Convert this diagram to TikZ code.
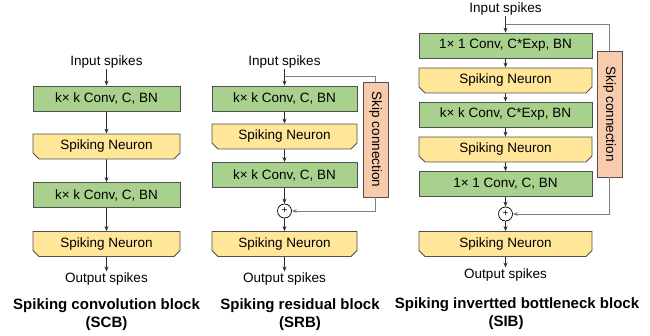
\documentclass[tikz,border=0pt]{standalone}
\usepackage{fontspec}
\setmainfont{Liberation Sans}
\usetikzlibrary{shapes.misc,arrows.meta}
\definecolor{convgreen}{HTML}{A9D18E}
\definecolor{neuronyellow}{HTML}{FFE699}
\definecolor{skipsalmon}{HTML}{F8CBAD}
\definecolor{edgegray}{HTML}{505050}
\definecolor{linegray}{HTML}{303030}
\definecolor{skipgray}{HTML}{808080}
\begin{document}
\begin{tikzpicture}[x=1pt,y=-1pt,
  lbl/.style={font=\fontsize{13.5}{16}\selectfont, inner sep=1pt},
  conv/.style={draw=edgegray, fill=convgreen, line width=0.8pt, minimum height=25pt, inner sep=0pt, font=\fontsize{13.5}{16}\selectfont},
  neuron/.style={chamfered rectangle, chamfered rectangle corners={south west,south east}, chamfered rectangle xsep=3pt, chamfered rectangle ysep=3pt, draw=edgegray, fill=neuronyellow, line width=0.8pt, minimum height=25pt, inner sep=0pt, font=\fontsize{13.5}{16}\selectfont},
  skipbox/.style={draw=edgegray, fill=skipsalmon, line width=0.8pt, rotate=-90, minimum height=25pt, inner sep=0pt, font=\fontsize{13.5}{16}\selectfont},
  plus/.style={circle, draw=black, fill=white, line width=0.7pt, minimum size=14pt, inner sep=0pt, font=\fontsize{10}{10}\selectfont},
  title/.style={font=\fontsize{15}{18}\selectfont\bfseries, inner sep=0pt},
  arr/.style={draw=linegray, line width=0.7pt, -{Stealth[length=5pt,width=4pt]}},
  skipln/.style={draw=skipgray, line width=0.8pt},
  skiparr/.style={draw=skipgray, line width=0.8pt, -{Stealth[length=5pt,width=4pt]}}
]
\useasboundingbox (0,0) rectangle (650,336);

% ---------- SCB ----------
\node[lbl] (a0) at (106.5,62) {Input spikes};
\node[conv, minimum width=147pt] (a1) at (106.5,98.5) {k× k Conv, C, BN};
\node[neuron, minimum width=147pt] (a2) at (106.5,146.5) {Spiking Neuron};
\node[conv, minimum width=147pt] (a3) at (106.5,195) {k× k Conv, C, BN};
\node[neuron, minimum width=147pt] (a4) at (106.5,244) {Spiking Neuron};
\node[lbl] (a5) at (106.5,279) {Output spikes};
\node[title] (at1) at (106.5,306) {Spiking convolution block};
\node[title] (at2) at (106.5,324) {(SCB)};
\draw[arr] (a0) -- (a1);
\draw[arr] (a1) -- (a2);
\draw[arr] (a2) -- (a3);
\draw[arr] (a3) -- (a4);
\draw[arr] (a4) -- (a5);

% ---------- SRB ----------
\node[lbl] (b0) at (284.5,62) {Input spikes};
\node[conv, minimum width=145pt] (b1) at (284.5,98.5) {k× k Conv, C, BN};
\node[neuron, minimum width=145pt] (b2) at (284.5,136.5) {Spiking Neuron};
\node[conv, minimum width=145pt] (b3) at (284.5,175) {k× k Conv, C, BN};
\node[plus] (bp) at (284.5,211) {+};
\node[neuron, minimum width=145pt] (b4) at (284.5,244) {Spiking Neuron};
\node[lbl] (b5) at (284.5,279) {Output spikes};
\node[skipbox, minimum width=115pt] (bs) at (375.5,139.5) {Skip connection};
\node[title] (bt1) at (300,306) {Spiking residual block};
\node[title] (bt2) at (300,324) {(SRB)};
\coordinate (bb) at (284.5,76);
\draw[arr] (b0) -- (b1);
\draw[arr] (b1) -- (b2);
\draw[arr] (b2) -- (b3);
\draw[arr] (b3) -- (bp);
\draw[arr] (bp) -- (b4);
\draw[arr] (b4) -- (b5);
\draw[skipln] (bb) -| (bs.west);
\draw[skiparr] (bs.east) |- (bp.east);

% ---------- SIB ----------
\node[lbl] (c0) at (505.5,9) {Input spikes};
\node[conv, minimum width=173pt] (c1) at (505.5,45.5) {1× 1 Conv, C*Exp, BN};
\node[neuron, minimum width=173pt] (c2) at (505.5,80.5) {Spiking Neuron};
\node[conv, minimum width=173pt] (c3) at (505.5,114.5) {k× k Conv, C*Exp, BN};
\node[neuron, minimum width=173pt] (c4) at (505.5,149.5) {Spiking Neuron};
\node[conv, minimum width=173pt] (c5) at (505.5,184) {1× 1 Conv, C, BN};
\node[plus] (cp) at (505.5,214) {+};
\node[neuron, minimum width=173pt] (c6) at (505.5,244) {Spiking Neuron};
\node[lbl] (c7) at (505.5,275) {Output spikes};
\node[skipbox, minimum width=126pt] (cs) at (609.5,114) {Skip connection};
\node[title] (ct1) at (517,305) {Spiking invertted bottleneck block};
\node[title] (ct2) at (506,323) {(SIB)};
\coordinate (cb) at (505.5,24);
\draw[arr] (c0) -- (c1);
\draw[arr] (c1) -- (c2);
\draw[arr] (c2) -- (c3);
\draw[arr] (c3) -- (c4);
\draw[arr] (c4) -- (c5);
\draw[arr] (c5) -- (cp);
\draw[arr] (cp) -- (c6);
\draw[arr] (c6) -- (c7);
\draw[skipln] (cb) -| (cs.west);
\draw[skiparr] (cs.east) |- (cp.east);
\end{tikzpicture}
\end{document}
